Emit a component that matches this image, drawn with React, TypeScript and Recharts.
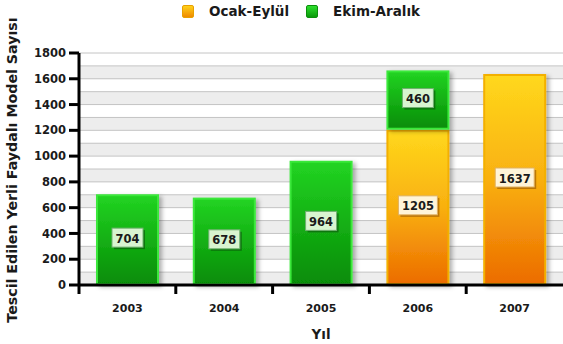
import { BarChart, Bar, XAxis, YAxis, CartesianGrid, Legend, LabelList, Label } from 'recharts';

const years = ['2003', '2004', '2005', '2006', '2007'];
const ocakEylul = [null, null, null, 1205, 1637];
const ekimAralik = [704, 678, 964, 460, null];
const yTicks = [0, 200, 400, 600, 800, 1000, 1200, 1400, 1600, 1800];
const gridLines = [0, 100, 200, 300, 400, 500, 600, 700, 800, 900, 1000, 1100, 1200, 1300, 1400, 1500, 1600, 1700, 1800];

const data = years.map((year, i) => ({ year, ocakEylul: ocakEylul[i], ekimAralik: ekimAralik[i] }));

const FONT = '"DejaVu Sans", Arial, sans-serif';
const W = 563;
const H = 344;
const LEFT = 79;
const band = (W - LEFT) / years.length;

const BarShape = (props: any) => {
  const { x, y, width, height, gradient, edge } = props;
  if (!height || height <= 0) return null;
  return (
    <rect
      x={x + 1}
      y={y + 1}
      width={width - 2}
      height={height - 2}
      fill={`url(#${gradient})`}
      stroke={edge}
      strokeWidth={2}
      filter="url(#barShadow)"
    />
  );
};

const valueLabel = (fill: string, edge: string, shadow: string) => (props: any) => {
  const vb = props.viewBox || props;
  const { x, y, width, height } = vb;
  const { value } = props;
  if (value == null || !height) return null;
  const text = String(value);
  const w = text.length * 8 + 7;
  const h = 19;
  const cx = x + width / 2;
  const cy = y + height / 2 - 2;
  return (
    <g>
      <rect x={cx - w / 2 + 2} y={cy - h / 2 + 2} width={w} height={h} fill={shadow} opacity={0.55} />
      <rect x={cx - w / 2} y={cy - h / 2} width={w} height={h} fill={fill} stroke={edge} strokeWidth={1} />
      <text x={cx} y={cy + 1} textAnchor="middle" dominantBaseline="central" fontFamily={FONT} fontWeight="bold" fontSize={11.5} fill="#1a1a1a">
        {text}
      </text>
    </g>
  );
};

// year label centred in the band, tick mark on the band's left edge
const YearTick = (props: any) => {
  const { x, y, payload } = props;
  const left = x - band / 2;
  return (
    <g>
      <line x1={left} y1={y} x2={left} y2={y + 9} stroke="#000" strokeWidth={3} />
      <text x={x} y={y + 23} textAnchor="middle" dominantBaseline="central" fontFamily={FONT} fontWeight="bold" fontSize={11} fill="#1a1a1a">
        {payload.value}
      </text>
    </g>
  );
};

const LegendBox = () => (
  <div style={{ display: 'flex', alignItems: 'center', marginLeft: 182, fontFamily: FONT, fontWeight: 'bold', fontSize: 13.5, color: '#1a1a1a', height: 22 }}>
    <span style={{ width: 10, height: 11, background: 'linear-gradient(#ffd21a, #f08a00)', border: '1px solid #e8a000', borderRadius: 2 }} />
    <span style={{ marginLeft: 15 }}>Ocak-Eylül</span>
    <span style={{ width: 10, height: 11, marginLeft: 17, background: 'linear-gradient(#2ee02e, #0a9a0a)', border: '1px solid #0b8f0b', borderRadius: 2 }} />
    <span style={{ marginLeft: 15 }}>Ekim-Aralık</span>
  </div>
);

export default function App() {
  return (
    <div style={{ position: 'absolute', left: 0, top: 0, background: '#fff' }}>
      <BarChart width={W} height={H} data={data} margin={{ top: 29, right: 0, left: 0, bottom: 0 }}>
        <defs>
          <linearGradient id="gradGreen" x1="0" y1="0" x2="0" y2="1">
            <stop offset="0%" stopColor="#22d422" />
            <stop offset="100%" stopColor="#068c06" />
          </linearGradient>
          <linearGradient id="gradOrange" x1="0" y1="0" x2="0" y2="1">
            <stop offset="0%" stopColor="#ffd81c" />
            <stop offset="50%" stopColor="#f9b010" />
            <stop offset="100%" stopColor="#ec6c00" />
          </linearGradient>
          <filter id="barShadow" x="-20%" y="-20%" width="140%" height="140%">
            <feDropShadow dx={3} dy={2} stdDeviation={2} floodColor="#000" floodOpacity={0.3} />
          </filter>
        </defs>
        <Legend verticalAlign="top" height={24} wrapperStyle={{ top: 0, left: 0, width: W }} content={() => <LegendBox />} />
        <CartesianGrid
          vertical={false}
          horizontalValues={gridLines}
          stroke="#c4c4c4"
          horizontalFill={['#ffffff', '#ededed']}
          fillOpacity={1}
        />
        <XAxis
          dataKey="year"
          height={59}
          axisLine={{ stroke: '#000', strokeWidth: 3 }}
          tickLine={false}
          tickSize={0}
          tickMargin={0}
          tick={<YearTick />}
          interval={0}
        >
          <Label value="Yıl" position="insideBottom" offset={5} fontFamily={FONT} fontWeight="bold" fontSize={13.5} fill="#1a1a1a" />
        </XAxis>
        <YAxis
          width={LEFT}
          domain={[0, 1800]}
          ticks={yTicks}
          interval={0}
          axisLine={{ stroke: '#000', strokeWidth: 3 }}
          tickLine={{ stroke: '#000', strokeWidth: 3 }}
          tickSize={10}
          tickMargin={3}
          tick={{ fontFamily: FONT, fontWeight: 'bold', fontSize: 11.5, fill: '#1a1a1a' }}
        >
          <Label
            content={() => (
              <text x={12} y={170} transform="rotate(-90 12 170)" textAnchor="middle" dominantBaseline="central" fontFamily={FONT} fontWeight="bold" fontSize={14.2} fill="#1a1a1a">
                Tescil Edilen Yerli Faydalı Model Sayısı
              </text>
            )}
          />
        </YAxis>
        <Bar dataKey="ocakEylul" name="Ocak-Eylül" stackId="a" barSize={63} isAnimationActive={false}
          shape={(p: any) => <BarShape {...p} gradient="gradOrange" edge="#f3b000" />}>
          <LabelList dataKey="ocakEylul" content={valueLabel('#fff4d8', '#e0b060', '#8a4a00')} />
        </Bar>
        <Bar dataKey="ekimAralik" name="Ekim-Aralık" stackId="a" barSize={63} isAnimationActive={false}
          shape={(p: any) => <BarShape {...p} gradient="gradGreen" edge="#3ae83a" />}>
          <LabelList dataKey="ekimAralik" content={valueLabel('#d8f4d0', '#70b070', '#0a4a0a')} />
        </Bar>
      </BarChart>
    </div>
  );
}
